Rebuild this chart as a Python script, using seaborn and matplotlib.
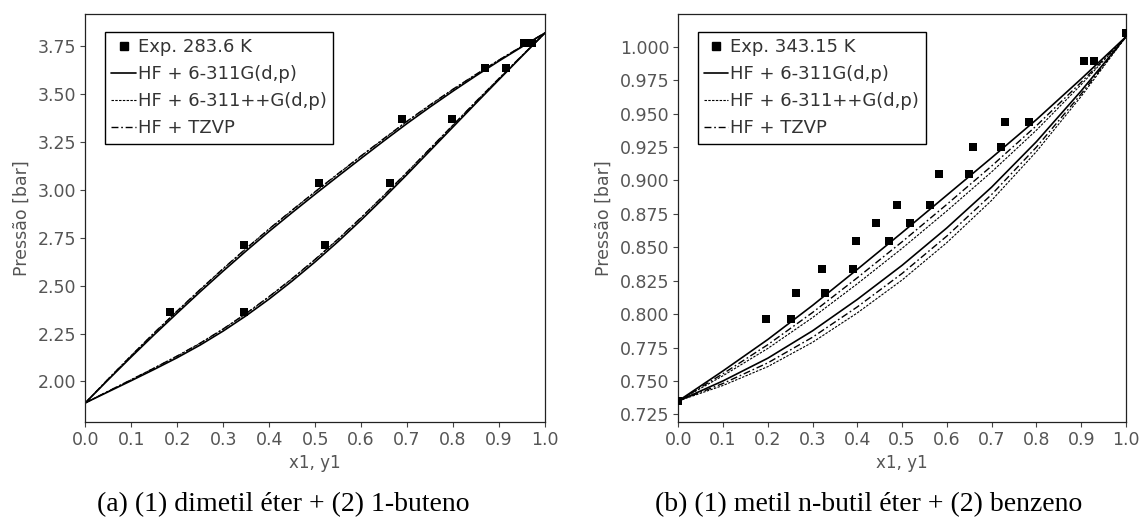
import matplotlib
matplotlib.use("Agg")
import matplotlib.pyplot as plt
import seaborn as sns
from matplotlib.lines import Line2D
from matplotlib.ticker import FormatStrFormatter, MultipleLocator

# ---------------- (a) (1) dimetil éter + (2) 1-buteno, 283.6 K ----------------
a_exp_P = [2.362, 2.713, 3.036, 3.368, 3.637, 3.767]
a_exp_x = [0.184, 0.345, 0.508, 0.688, 0.869, 0.955]
a_exp_y = [0.345, 0.521, 0.662, 0.798, 0.915, 0.971]
a_pure_x = []
a_pure_P = []

a_grid = [0.00, 0.05, 0.10, 0.15, 0.20, 0.25, 0.30, 0.35, 0.40, 0.45, 0.50,
          0.55, 0.60, 0.65, 0.70, 0.75, 0.80, 0.85, 0.90, 0.95, 1.00]
# bubble (P vs x1) and dew (P vs y1) curves for each basis set
a_bub_311g = [1.888, 2.009, 2.128, 2.244, 2.357, 2.468, 2.576, 2.681, 2.783, 2.881, 2.977,
              3.071, 3.164, 3.256, 3.346, 3.432, 3.515, 3.595, 3.672, 3.746, 3.818]
a_bub_311pp = [1.888, 2.013, 2.135, 2.253, 2.367, 2.479, 2.588, 2.693, 2.795, 2.893, 2.989,
               3.083, 3.176, 3.267, 3.357, 3.442, 3.524, 3.602, 3.677, 3.749, 3.818]
a_bub_tzvp = [1.888, 2.013, 2.135, 2.254, 2.368, 2.480, 2.589, 2.694, 2.796, 2.894, 2.990,
              3.084, 3.177, 3.268, 3.358, 3.443, 3.525, 3.602, 3.677, 3.749, 3.818]
a_dew_311g = [1.888, 1.946, 2.004, 2.063, 2.124, 2.190, 2.263, 2.343, 2.430, 2.524, 2.624,
              2.730, 2.842, 2.959, 3.080, 3.204, 3.328, 3.452, 3.575, 3.697, 3.818]
a_dew_311pp = [1.888, 1.949, 2.009, 2.070, 2.132, 2.199, 2.273, 2.354, 2.442, 2.536, 2.636,
               2.742, 2.854, 2.971, 3.091, 3.214, 3.337, 3.460, 3.581, 3.700, 3.818]
a_dew_tzvp = [1.888, 1.949, 2.009, 2.070, 2.133, 2.200, 2.274, 2.355, 2.443, 2.537, 2.637,
              2.743, 2.855, 2.972, 3.092, 3.215, 3.338, 3.461, 3.581, 3.700, 3.818]

# ---------------- (b) (1) metil n-butil éter + (2) benzeno, 343.15 K ----------------
b_exp_P = [0.796, 0.816, 0.8335, 0.855, 0.868, 0.8816, 0.905, 0.925, 0.9434, 0.9893]
b_exp_x = [0.196, 0.263, 0.322, 0.397, 0.4416, 0.4885, 0.5815, 0.658, 0.730, 0.906]
b_exp_y = [0.251, 0.328, 0.391, 0.470, 0.517, 0.563, 0.650, 0.720, 0.783, 0.928]
b_pure_x = [0.0, 1.0]
b_pure_P = [0.735, 1.010]

b_grid = [0.0, 0.1, 0.2, 0.3, 0.4, 0.5, 0.6, 0.7, 0.8, 0.9, 1.0]
b_bub_311g = [0.7350, 0.7575, 0.7810, 0.8065, 0.8335, 0.8610, 0.8890, 0.9170, 0.9455, 0.9760, 1.0075]
b_bub_tzvp = [0.7350, 0.7554, 0.7771, 0.8012, 0.8272, 0.8541, 0.8821, 0.9108, 0.9409, 0.9735, 1.0075]
b_bub_311pp = [0.7350, 0.7539, 0.7743, 0.7974, 0.8227, 0.8492, 0.8772, 0.9064, 0.9376, 0.9717, 1.0075]
b_dew_311g = [0.7350, 0.7500, 0.7670, 0.7875, 0.8110, 0.8365, 0.8645, 0.8950, 0.9290, 0.9670, 1.0075]
b_dew_tzvp = [0.7350, 0.7481, 0.7635, 0.7827, 0.8054, 0.8304, 0.8584, 0.8895, 0.9249, 0.9647, 1.0075]
b_dew_311pp = [0.7350, 0.7466, 0.7607, 0.7789, 0.8009, 0.8255, 0.8535, 0.8851, 0.9216, 0.9629, 1.0075]

model_labels = ["HF + 6-311G(d,p)", "HF + 6-311++G(d,p)", "HF + TZVP"]
line_styles = {
    "HF + 6-311G(d,p)": dict(linestyle="-", lw=1.2),
    "HF + 6-311++G(d,p)": dict(linestyle=(0, (2.2, 1.2)), lw=0.8),
    "HF + TZVP": dict(linestyle=(0, (5, 2, 1.2, 2)), lw=1.0),
}

sns.set_theme(style="ticks")
plt.rcParams["font.family"] = ["DejaVu Sans"]
plt.rcParams["axes.edgecolor"] = "#222222"
plt.rcParams["axes.linewidth"] = 0.9

fig = plt.figure(figsize=(11.43, 5.23), dpi=100)
ax_a = fig.add_axes([0.0746, 0.1937, 0.4022, 0.7795])
ax_b = fig.add_axes([0.5934, 0.1937, 0.3917, 0.7795])

text_grey = "#555555"


def draw_panel(ax, grid, curves, exp_x, exp_y, exp_P, pure_x, pure_P, exp_label,
               ylim, ystep, yfmt):
    for label in model_labels:
        bub, dew = curves[label]
        st = line_styles[label]
        for series in (bub, dew):
            sns.lineplot(x=grid, y=series, ax=ax, color="black", estimator=None,
                         sort=False, linestyle=st["linestyle"], lw=st["lw"])
    pts_x = list(exp_x) + list(exp_y) + list(pure_x)
    pts_P = list(exp_P) + list(exp_P) + list(pure_P)
    sns.scatterplot(x=pts_x, y=pts_P, ax=ax, marker="s", s=34, color="black",
                    edgecolor="black", linewidth=0, zorder=4)
    ax.set_xlim(0, 1)
    ax.set_ylim(*ylim)
    ax.xaxis.set_major_locator(MultipleLocator(0.1))
    ax.xaxis.set_major_formatter(FormatStrFormatter("%.1f"))
    ax.yaxis.set_major_locator(MultipleLocator(ystep))
    ax.yaxis.set_major_formatter(FormatStrFormatter(yfmt))
    ax.tick_params(direction="out", length=3.5, width=0.8, color="#444444",
                   labelsize=12.5, labelcolor=text_grey, pad=3)
    for sp in ax.spines.values():
        sp.set_visible(True)
        sp.set_color("#222222")
    ax.set_xlabel("x1, y1", fontsize=12, color=text_grey, labelpad=4)
    ax.set_ylabel("Pressão [bar]", fontsize=12.5, color=text_grey, labelpad=5)

    handles = [Line2D([], [], marker="s", ms=6, color="black", linestyle="none")]
    for label in model_labels:
        st = line_styles[label]
        handles.append(Line2D([], [], color="black", linestyle=st["linestyle"], lw=st["lw"]))
    leg = ax.legend(handles, [exp_label] + model_labels, loc="upper left",
                    bbox_to_anchor=(0.043, 0.956), borderaxespad=0, frameon=True,
                    fancybox=False, fontsize=13, handlelength=1.35, handletextpad=0.12,
                    labelspacing=0.5, borderpad=0.35, labelcolor="#333333")
    frame = leg.get_frame()
    frame.set_edgecolor("black")
    frame.set_linewidth(1.0)
    frame.set_alpha(1)


curves_a = {
    "HF + 6-311G(d,p)": (a_bub_311g, a_dew_311g),
    "HF + 6-311++G(d,p)": (a_bub_311pp, a_dew_311pp),
    "HF + TZVP": (a_bub_tzvp, a_dew_tzvp),
}
curves_b = {
    "HF + 6-311G(d,p)": (b_bub_311g, b_dew_311g),
    "HF + 6-311++G(d,p)": (b_bub_311pp, b_dew_311pp),
    "HF + TZVP": (b_bub_tzvp, b_dew_tzvp),
}

draw_panel(ax_a, a_grid, curves_a, a_exp_x, a_exp_y, a_exp_P, a_pure_x, a_pure_P,
           "Exp. 283.6 K", (1.79, 3.917), 0.25, "%.2f")
draw_panel(ax_b, b_grid, curves_b, b_exp_x, b_exp_y, b_exp_P, b_pure_x, b_pure_P,
           "Exp. 343.15 K", (0.7195, 1.0245), 0.025, "%.3f")

caption_font = dict(family=["Liberation Serif"], size=20, color="black")
fig.text(0.248, 0.036, "(a) (1) dimetil éter + (2) 1-buteno", ha="center", va="center",
         **caption_font)
fig.text(0.760, 0.036, "(b) (1) metil n-butil éter + (2) benzeno", ha="center", va="center",
         **caption_font)

fig.savefig("out.png", dpi=100)
